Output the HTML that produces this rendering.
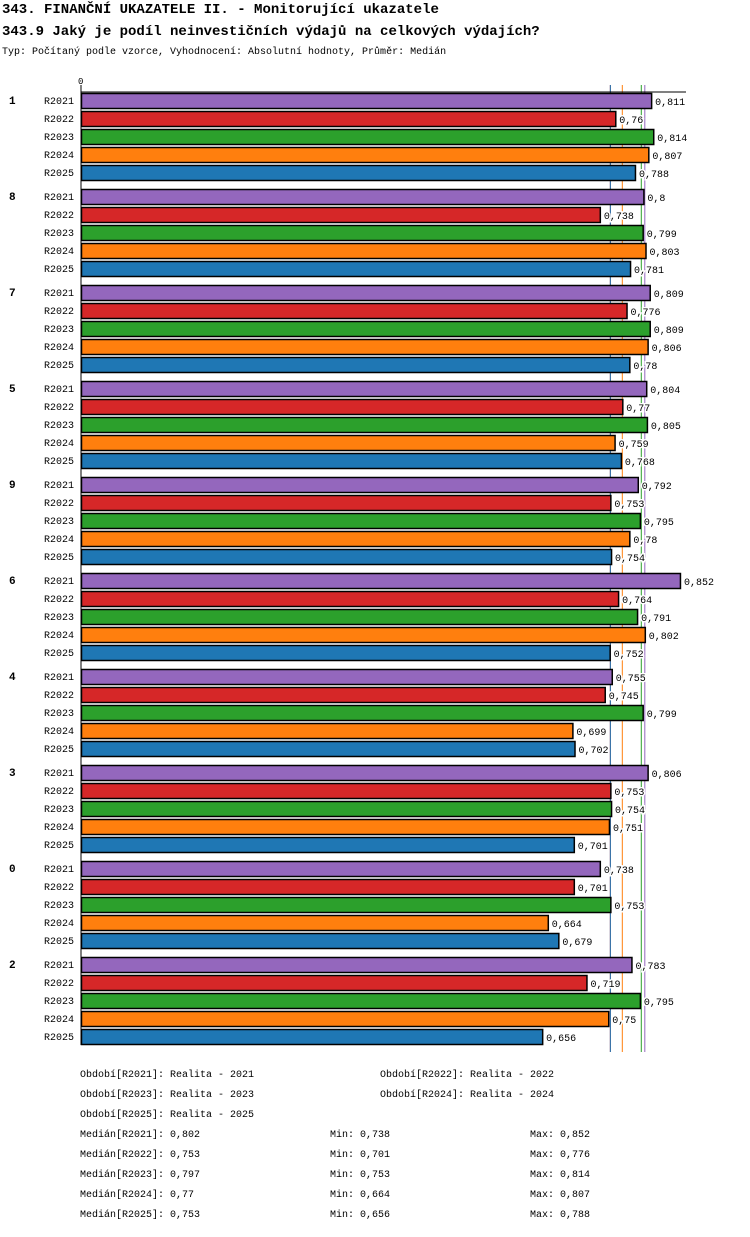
<!DOCTYPE html>
<html><head><meta charset="utf-8"><style>
body{margin:0;background:#fff;width:750px;height:1232px;overflow:hidden}
svg text{font-family:"Liberation Mono","DejaVu Sans Mono",monospace}
</style></head><body>
<svg id="chart" width="750" height="1232" xmlns="http://www.w3.org/2000/svg">
<text x="2" y="13" font-size="14" font-weight="bold">343. FINANČNÍ UKAZATELE II. - Monitorující ukazatele</text>
<text x="2" y="35" font-size="14" font-weight="bold">343.9 Jaký je podíl neinvestičních výdajů na celkových výdajích?</text>
<text x="2" y="54" font-size="10">Typ: Počítaný podle vzorce, Vyhodnocení: Absolutní hodnoty, Průměr: Medián</text>
<g id="plot"></g>
<g id="legend"></g>
</svg>
<script>
const groups=['1','8','7','5','9','6','4','3','0','2'];
const series=['R2021','R2022','R2023','R2024','R2025'];
const colors=['#9467bd','#d62728','#2ca02c','#ff7f0e','#1f77b4'];
const values=[
[0.811,0.76,0.814,0.807,0.788],
[0.8,0.738,0.799,0.803,0.781],
[0.809,0.776,0.809,0.806,0.78],
[0.804,0.77,0.805,0.759,0.768],
[0.792,0.753,0.795,0.78,0.754],
[0.852,0.764,0.791,0.802,0.752],
[0.755,0.745,0.799,0.699,0.702],
[0.806,0.753,0.754,0.751,0.701],
[0.738,0.701,0.753,0.664,0.679],
[0.783,0.719,0.795,0.75,0.656]];
const medians=[0.802,0.753,0.797,0.77,0.753];
const mins=[0.738,0.701,0.753,0.664,0.656];
const maxs=[0.852,0.776,0.814,0.807,0.788];
const periods=['Realita - 2021','Realita - 2022','Realita - 2023','Realita - 2024','Realita - 2025'];
const NS='http://www.w3.org/2000/svg';
const x0=81,scale=703;
const xs=v=>x0+v*scale;
const ys=(g,s)=>92+g*96+s*18;
const plot=document.getElementById('plot');
function mk(tag,attrs,parent,txt){const e=document.createElementNS(NS,tag);for(const k in attrs)e.setAttribute(k,attrs[k]);if(txt!==undefined)e.textContent=txt;parent.appendChild(e);return e;}
const fmt=v=>String(v).replace('.',',');
const order=[1,4,3,2,0];
order.forEach(si=>{
  let l=mk('line',{x1:xs(medians[si]),y1:85,x2:xs(medians[si]),y2:1052,stroke:colors[si],'stroke-width':1},plot);
  
  
});
let ax=mk('line',{x1:x0,y1:92,x2:686,y2:92,stroke:'#000'},plot);


let ax2=mk('line',{x1:x0,y1:85,x2:x0,y2:1045,stroke:'#000'},plot);


let z=mk('text',{x:x0-3,y:84,'font-size':9},plot,'0');


groups.forEach((g,gi)=>{
  let gl=mk('text',{x:9,y:ys(gi,0)+12,'font-size':11,'font-weight':'bold'},plot,g);
  
  
  series.forEach((s,si)=>{
    const y=ys(gi,si);
    let sl=mk('text',{x:44,y:y+12,'font-size':10},plot,s);
    
    
    const v=values[gi][si];
    let r=mk('rect',{x:x0+0.5,y:y+1.5,width:xs(v)-x0,height:15,fill:colors[si],stroke:'#000','stroke-width':1.5},plot);
    
    
    let vl=mk('text',{x:xs(v)+4,y:y+13,'font-size':10,fill:'#000',stroke:'#fff','stroke-width':3,'paint-order':'stroke'},plot,fmt(v));
    
    
  });
});
const leg=document.getElementById('legend');
series.forEach((s,si)=>{
  const x=si%2?380:80,y=1077+Math.floor(si/2)*20;
  let t=mk('text',{x:x,y:y,'font-size':10},leg,'Období['+s+']: '+periods[si]);
  
  
  const yy=1137+si*20;
  let a=mk('text',{x:80,y:yy,'font-size':10},leg,'Medián['+s+']: '+fmt(medians[si]));
  
  
  let b=mk('text',{x:330,y:yy,'font-size':10},leg,'Min: '+fmt(mins[si]));
  
  
  let c=mk('text',{x:530,y:yy,'font-size':10},leg,'Max: '+fmt(maxs[si]));
  
  
});
</script>
</body></html>
